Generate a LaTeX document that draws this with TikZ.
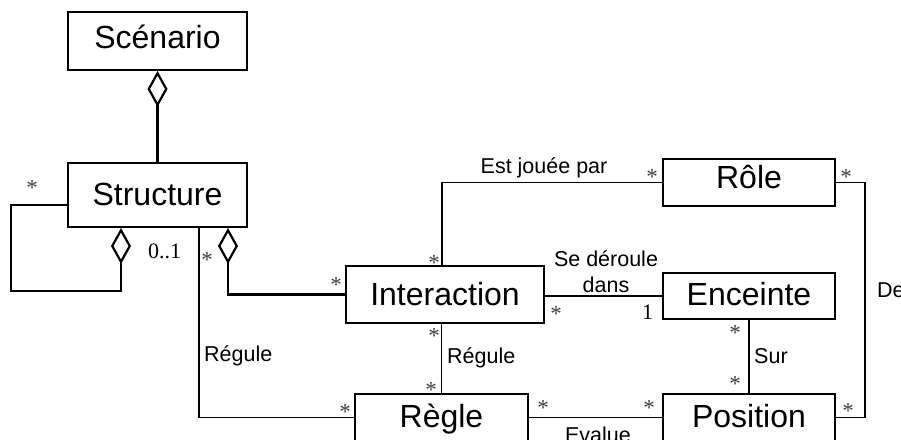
\documentclass[tikz,border=0pt]{standalone}
\usepackage{fontspec}
\setmainfont{Liberation Sans}
\newfontfamily\multfont{Liberation Serif}
\usetikzlibrary{arrows.meta}
\tikzset{
  classbox/.style={draw, line width=2pt, inner sep=0pt, font=\fontsize{32}{36}\selectfont, text height=23pt},
  agg/.style={line width=2.2pt, line join=miter, -{Diamond[length=36pt, width=20pt, fill=white]}},
  assoc/.style={line width=1.6pt},
  lbl/.style={inner sep=0pt, font=\fontsize{21.5}{24}\selectfont},
  mult/.style={inner sep=0pt, text=black!75, font=\multfont\fontsize{23}{24}\selectfont, yshift=-3pt},
  multn/.style={inner sep=0pt, anchor=base west, font=\multfont\fontsize{22}{24}\selectfont},
}
\begin{document}
\begin{tikzpicture}[x=1pt, y=-1pt]
\useasboundingbox (0,0) rectangle (901,439);
\clip (0,0) rectangle (901,439);
% classes
\node[classbox, minimum width=179pt, minimum height=58pt, text depth=9pt] (scen) at (157.5,41) {Scénario};
\node[classbox, minimum width=179pt, minimum height=64pt, text depth=3pt] (struct) at (157.5,195) {Structure};
\node[classbox, minimum width=198pt, minimum height=57pt, text depth=2pt] (inter) at (445,294.5) {Interaction};
\node[classbox, minimum width=172pt, minimum height=47pt, text depth=12pt] (role) at (749,182.5) {Rôle};
\node[classbox, minimum width=172pt, minimum height=46pt, text depth=5pt] (enc) at (749,296) {Enceinte};
\node[classbox, minimum width=173pt, minimum height=47pt, text depth=4pt] (regle) at (441.5,417.5) {Règle};
\node[classbox, minimum width=172pt, minimum height=47pt, text depth=4pt] (pos) at (749,417.5) {Position};
% aggregations
\draw[agg] (struct.north) -- (scen.south);
\draw[agg] ([yshift=-10pt]struct.west) -- ++(-56,0) -- ++(0,86) -| ([xshift=-36.5pt]struct.south);
\draw[agg] (inter.west) -| ([xshift=70.5pt]struct.south);
% associations
\draw[assoc] ([xshift=41.5pt]struct.south) |- (regle.west);
\draw[assoc] ([xshift=-3pt]inter.north) |- (role.west);
\draw[assoc] (inter.east |- enc.west) -- (enc.west);
\draw[assoc] (regle.north |- inter.south) -- (regle.north);
\draw[assoc] (enc.south) -- (pos.north);
\draw[assoc] (regle.east) -- (pos.west);
\draw[assoc] (role.east) -- ++(29,0) |- (pos.east);
% labels
\node[lbl, anchor=base] (l1) at (544,173) {Est jouée par};
\node[lbl, anchor=base] (l2) at (606,266) {Se déroule};
\node[lbl, anchor=base] (l3) at (606,292) {dans};
\node[lbl, anchor=base west] (l4) at (204,361) {Régule};
\node[lbl, anchor=base west] (l5) at (447,363) {Régule};
\node[lbl, anchor=base west] (l6) at (754,363) {Sur};
\node[lbl, anchor=base west] (l7) at (877,297) {De};
\node[lbl, anchor=base] (l8) at (598,442) {Evalue};
% multiplicities
\node[multn] (n1) at (148,258) {0..1};
\node[multn] (n2) at (642,319) {1};
\node[mult] (s1) at (32,185) {*};
\node[mult] (s2) at (207,257) {*};
\node[mult] (s3) at (336,282) {*};
\node[mult] (s4) at (434,260) {*};
\node[mult] (s5) at (434,333) {*};
\node[mult] (s6) at (556,311) {*};
\node[mult] (s7) at (431,387) {*};
\node[mult] (s8) at (345,409) {*};
\node[mult] (s9) at (543,405) {*};
\node[mult] (s10) at (649,405) {*};
\node[mult] (s11) at (735,330) {*};
\node[mult] (s12) at (735,381) {*};
\node[mult] (s13) at (848,408) {*};
\node[mult] (s14) at (652,174) {*};
\node[mult] (s15) at (846,174) {*};
\end{tikzpicture}
\end{document}
